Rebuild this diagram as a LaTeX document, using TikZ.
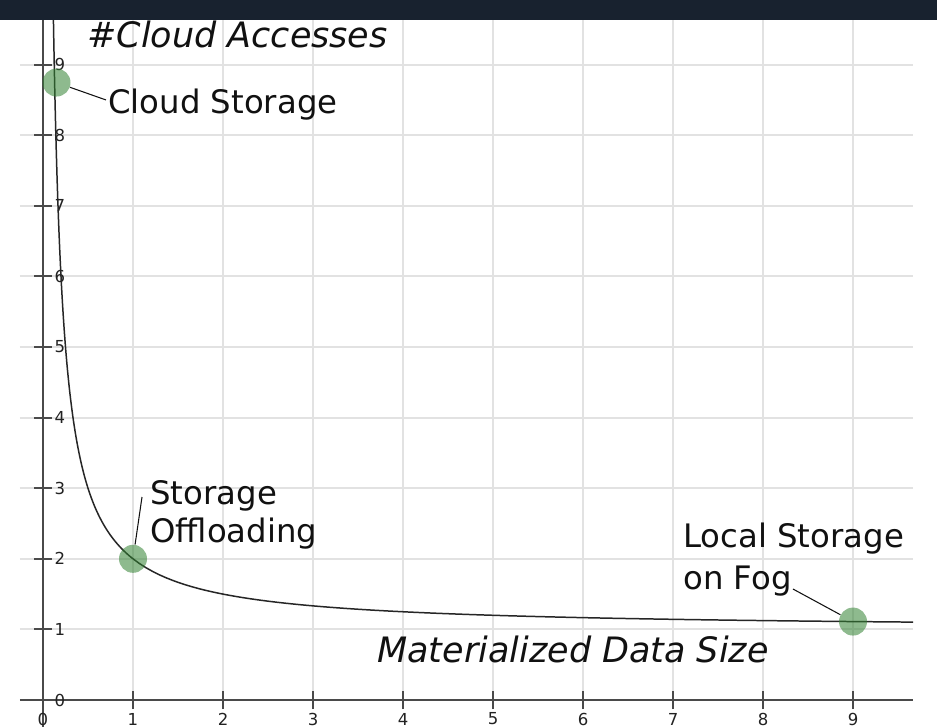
\documentclass[tikz,border=0pt]{standalone}
\usepackage{fontspec}
\setmainfont{DejaVu Sans}
\definecolor{barcol}{HTML}{18222F}
\definecolor{gridcol}{HTML}{E2E2E2}
\definecolor{axiscol}{HTML}{4A4A4A}
\definecolor{tickcol}{HTML}{222222}
\definecolor{dotcol}{RGB}{50,130,50}
\definecolor{txtcol}{HTML}{111111}
\tikzset{
  gridline/.style={gridcol, line width=1.1pt},
  axisline/.style={axiscol, line width=1.1pt},
  ticklabel/.style={font=\fontsize{9.4}{11}\selectfont, text=tickcol, inner sep=0pt},
  dot/.style={circle, minimum size=0.56cm, inner sep=0pt, fill=dotcol, fill opacity=0.55},
  lbl/.style={font=\fontsize{18.4}{22}\selectfont, text=txtcol, inner sep=0pt, anchor=base west, align=left},
  axlbl/.style={font=\fontsize{19.9}{24}\selectfont\itshape, text=txtcol, inner sep=0pt, anchor=base west},
  leader/.style={txtcol, line width=0.6pt},
  curve/.style={black!85, line width=0.85pt}
}
\begin{document}
\begin{tikzpicture}[x=1.8cm, y=1.412cm]
\useasboundingbox (-0.4778,-0.3824) rectangle (9.9333,9.915);
\fill[white] (-0.4778,-0.3824) rectangle (9.9333,9.915);
% grid
\foreach \i in {1,...,9} {
  \draw[gridline] (-0.2556,\i) -- (9.667,\i);
  \draw[gridline] (\i,0) -- (\i,9.632);
}
% axes
\draw[axisline] (-0.2556,0) -- (9.667,0);
\draw[axisline] (0,-0.3824) -- (0,9.632);
% ticks and labels
\foreach \i in {0,...,9} {
  \draw[axisline] (\i,-0.1275) -- (\i,0.1275);
  \node[ticklabel] (xl\i) at (\i,-0.27) {\i};
  \draw[axisline] (-0.1,\i) -- (0.1,\i);
  \node[ticklabel, anchor=west] (yl\i) at (0.125,\i) {\i};
}
% curve
\begin{scope}
\clip (-0.4778,-0.3824) rectangle (9.9333,9.632);
\draw[curve] plot[domain=0.1155:1, samples=200] (\x,{1+1/\x});
\draw[curve] plot[domain=1:9.667, samples=120] (\x,{1+1/\x});
\end{scope}
% dark bar
\fill[barcol] (-0.4778,9.632) rectangle (9.9333,9.915);
% points
\node[dot] (cs) at (0.15,8.746) {};
\node[dot] (so) at (1,2) {};
\node[dot] (lf) at (9,1.111) {};
% labels
\node[axlbl] (ya) at (0.489,9.249) {\#Cloud Accesses};
\node[axlbl] (xa) at (3.711,0.538) {Materialized Data Size};
\node[lbl] (csl) at (0.722,8.314) {Cloud Storage};
\node[lbl, font=\fontsize{18.4}{22.1}\selectfont] (sol) at (1.189,2.224) {Storage\\Offloading};
\node[lbl, font=\fontsize{18.4}{23.8}\selectfont] (lfl) at (7.111,1.572) {Local Storage\\on Fog};
% leaders
\coordinate (csend) at (0.7,8.499);
\coordinate (soend) at (1.1,2.875);
\coordinate (lfend) at (8.333,1.572);
\draw[leader] (cs) -- (csend);
\draw[leader] (so) -- (soend);
\draw[leader] (lf) -- (lfend);
\end{tikzpicture}
\end{document}
